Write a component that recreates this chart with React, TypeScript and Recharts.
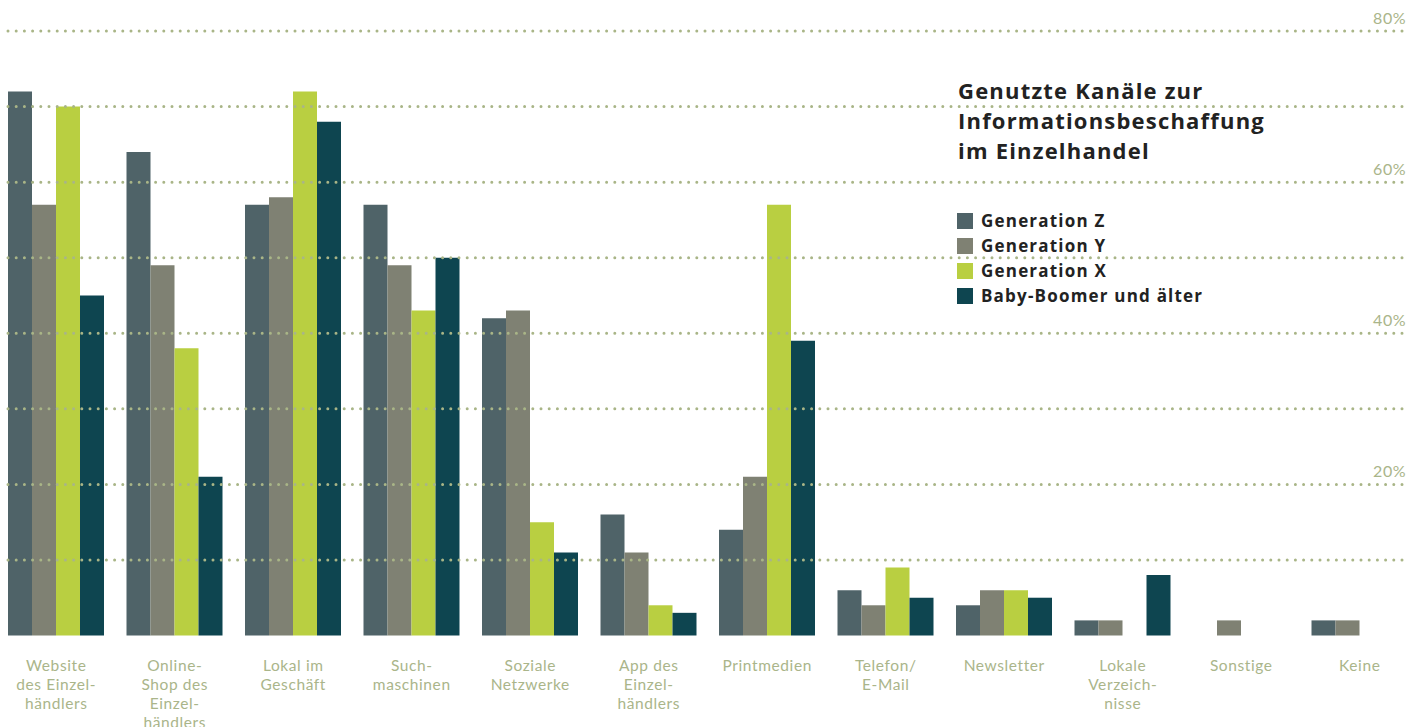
import React from "react";
import { BarChart, Bar, XAxis, YAxis, ReferenceLine } from "recharts";

// Categories (line breaks as in the printed labels)
const categories = [
  "Website\ndes Einzel-\nhändlers",
  "Online-\nShop des\nEinzel-\nhändlers",
  "Lokal im\nGeschäft",
  "Such-\nmaschinen",
  "Soziale\nNetzwerke",
  "App des\nEinzel-\nhändlers",
  "Printmedien",
  "Telefon/\nE-Mail",
  "Newsletter",
  "Lokale\nVerzeich-\nnisse",
  "Sonstige",
  "Keine",
];

// Share in %, per generation
const genZ = [72, 64, 57, 57, 42, 16, 14, 6, 4, 2, 0, 2];
const genY = [57, 49, 58, 49, 43, 11, 21, 4, 6, 2, 2, 2];
const genX = [70, 38, 72, 43, 15, 4, 57, 9, 6, 0, 0, 0];
const boomer = [45, 21, 68, 50, 11, 3, 39, 5, 5, 8, 0, 0];

const gridTicks = [10, 20, 30, 40, 50, 60, 70, 80];
const labelTicks = [20, 40, 60, 80];

const seriesNames = ["Generation Z", "Generation Y", "Generation X", "Baby-Boomer und älter"];
const COLORS = ["#4f6368", "#7f8173", "#b9cf41", "#0e4550"];

const data = categories.map((name, i) => ({
  name,
  z: genZ[i],
  y: genY[i],
  x: genX[i],
  b: boomer[i],
}));

const SAGE = "#aab58a";
const FONT = "Lato, 'Open Sans', sans-serif";

const CategoryTick = (props: any) => {
  const { x, y, payload } = props;
  const lines: string[] = String(payload.value).split("\n");
  return (
    <text x={x} y={y + 27.5} textAnchor="middle" fill={SAGE} fontSize={15.5} fontFamily={FONT} letterSpacing={0.6}>
      {lines.map((l, i) => (
        <tspan key={i} x={x} dy={i === 0 ? 0 : 19}>
          {l}
        </tspan>
      ))}
    </text>
  );
};

// percent label sits above its gridline at the right edge
const PercentLabel = (props: any) => {
  const { viewBox, value } = props;
  if (!labelTicks.includes(value)) return null;
  return (
    <text x={1406} y={viewBox.y - 7} textAnchor="end" fill={SAGE} fontSize={16} fontFamily={FONT} letterSpacing={0.5}>
      {value}%
    </text>
  );
};

export default function App() {
  return (
    <div style={{ position: "absolute", left: 0, top: 0, width: 1409, height: 727, overflow: "hidden", background: "#fff" }}>
      <BarChart
        width={1409}
        height={727}
        data={data}
        margin={{ top: 31, right: 0, left: 8, bottom: 0 }}
        barGap={0}
      >
        <XAxis
          dataKey="name"
          height={91.5}
          axisLine={false}
          tickLine={false}
          interval={0}
          padding={{ left: -11, right: -10 }}
          tick={<CategoryTick />}
        />
        <YAxis hide domain={[0, 80]} ticks={gridTicks} />
        {gridTicks.map((t) => (
          <ReferenceLine
            key={t}
            y={t}
            stroke="#a9b587"
            strokeWidth={3}
            strokeDasharray="0 8.2"
            strokeLinecap="round"
            label={<PercentLabel value={t} />}
          />
        ))}
        <Bar dataKey="z" name={seriesNames[0]} fill={COLORS[0]} barSize={24} isAnimationActive={false} />
        <Bar dataKey="y" name={seriesNames[1]} fill={COLORS[1]} barSize={24} isAnimationActive={false} />
        <Bar dataKey="x" name={seriesNames[2]} fill={COLORS[2]} barSize={24} isAnimationActive={false} />
        <Bar dataKey="b" name={seriesNames[3]} fill={COLORS[3]} barSize={24} isAnimationActive={false} />
      </BarChart>

      <div
        style={{
          position: "absolute",
          left: 958,
          top: 75,
          fontFamily: "'Open Sans', sans-serif",
          fontWeight: 700,
          fontSize: 22,
          lineHeight: "30px",
          letterSpacing: 1.2,
          color: "#222",
        }}
      >
        Genutzte Kanäle zur
        <br />
        Informationsbeschaffung
        <br />
        im Einzelhandel
      </div>

      <div style={{ position: "absolute", left: 957, top: 208, fontFamily: "'Open Sans', sans-serif" }}>
        {seriesNames.map((n, i) => (
          <div key={n} style={{ display: "flex", alignItems: "center", height: 25 }}>
            <span style={{ width: 16, height: 16, background: COLORS[i], display: "inline-block", marginRight: 8 }} />
            <span style={{ fontWeight: 700, fontSize: 17, letterSpacing: 1.2, color: "#222" }}>{n}</span>
          </div>
        ))}
      </div>
    </div>
  );
}
